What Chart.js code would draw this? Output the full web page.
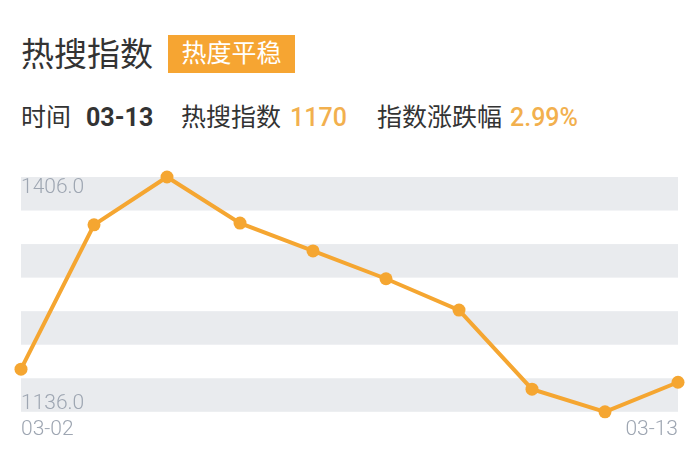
<!DOCTYPE html>
<html>
<head>
<meta charset="utf-8">
<script src="https://cdn.jsdelivr.net/npm/chart.js@4"></script>
<style>
    html, body { margin: 0; padding: 0; background: #fff; }
    body { width: 700px; height: 475px; position: relative; overflow: hidden;
           font-family: Roboto, "Noto Sans CJK SC", sans-serif; color: #333; }
    .title { position: absolute; left: 21px; top: 32px; font-size: 33px; line-height: 46px; color: #333; }
    .badge { position: absolute; left: 168px; top: 35px; width: 127px; height: 38px; line-height: 38px;
             background: #f6a532; color: #fff; font-size: 25px; text-align: center; }
    .info { position: absolute; top: 101px; font-size: 25px; line-height: 34px; white-space: nowrap; }
    .num { color: #f2b04e; font-weight: 500; }
    .bold { font-weight: bold; color: #333; }
    #wrap { position: absolute; left: 0; top: 160px; width: 700px; height: 290px; }
</style>
</head>
<body>
<div class="title">热搜指数</div>
<div class="badge">热度平稳</div>
<div class="info" style="left:21px">时间</div>
<div class="info bold" style="left:86px">03-13</div>
<div class="info" style="left:181px">热搜指数</div>
<div class="info num" style="left:290px">1170</div>
<div class="info" style="left:377px">指数涨跌幅</div>
<div class="info num" style="left:510px">2.99%</div>
<div id="wrap"><canvas id="hotChart"></canvas></div>

<script>
// Data
const dates = ['03-02', '03-03', '03-04', '03-05', '03-06', '03-07', '03-08', '03-10', '03-12', '03-13'];
const hotIndex = [1185, 1351, 1406, 1353, 1321, 1289, 1253, 1162, 1136, 1170];
const yMin = 1136;
const yMax = 1406;
const bandCount = 7;

const orange = '#f5a631';

// gray stripes behind the line, cut from the y scale
const bandsPlugin = {
    id: 'bands',
    beforeDatasetsDraw(chart) {
        const { ctx, chartArea, scales } = chart;
        const step = (yMax - yMin) / bandCount;
        ctx.save();
        ctx.fillStyle = '#e9ebee';
        for (let i = 0; i < bandCount; i += 2) {
            const top = scales.y.getPixelForValue(yMax - i * step);
            const bottom = scales.y.getPixelForValue(yMax - (i + 1) * step);
            ctx.fillRect(chartArea.left, top, chartArea.right - chartArea.left, bottom - top);
        }
        ctx.restore();
    }
};

// min / max labels drawn inside the plot
const rangeLabels = {
    id: 'rangeLabels',
    beforeDatasetsDraw(chart) {
        const { ctx, chartArea, scales } = chart;
        ctx.save();
        ctx.font = '300 21px Roboto';
        ctx.fillStyle = '#9ea6b2';
        ctx.textAlign = 'left';
        ctx.textBaseline = 'top';
        ctx.fillText(yMax.toFixed(1), chartArea.left, scales.y.getPixelForValue(yMax));
        ctx.textBaseline = 'bottom';
        ctx.fillText(yMin.toFixed(1), chartArea.left, scales.y.getPixelForValue(yMin) + 2);
        ctx.restore();
    }
};

new Chart(document.getElementById('hotChart'), {
    type: 'line',
    data: {
        labels: dates,
        datasets: [{
            data: hotIndex,
            borderColor: orange,
            backgroundColor: orange,
            borderWidth: 4,
            pointRadius: 6.5,
            pointBorderWidth: 0,
            pointBackgroundColor: orange,
            tension: 0,
            clip: false
        }]
    },
    options: {
        responsive: true,
        maintainAspectRatio: false,
        animation: false,
        layout: { padding: { left: 21, right: 22, top: 17, bottom: 3 } },
        plugins: {
            legend: { display: false },
            tooltip: { enabled: false }
        },
        scales: {
            x: {
                grid: { display: false, drawTicks: false },
                border: { display: false },
                ticks: {
                    autoSkip: false,
                    maxRotation: 0,
                    align: 'inner',
                    padding: 5,
                    color: '#9ea6b2',
                    font: { family: 'Roboto', size: 21, weight: '300' },
                    callback(value, index) {
                        return (index === 0 || index === dates.length - 1) ? dates[index] : '';
                    }
                }
            },
            y: {
                display: false,
                min: yMin,
                max: yMax
            }
        }
    },
    plugins: [bandsPlugin, rangeLabels]
});
</script>
</body>
</html>
